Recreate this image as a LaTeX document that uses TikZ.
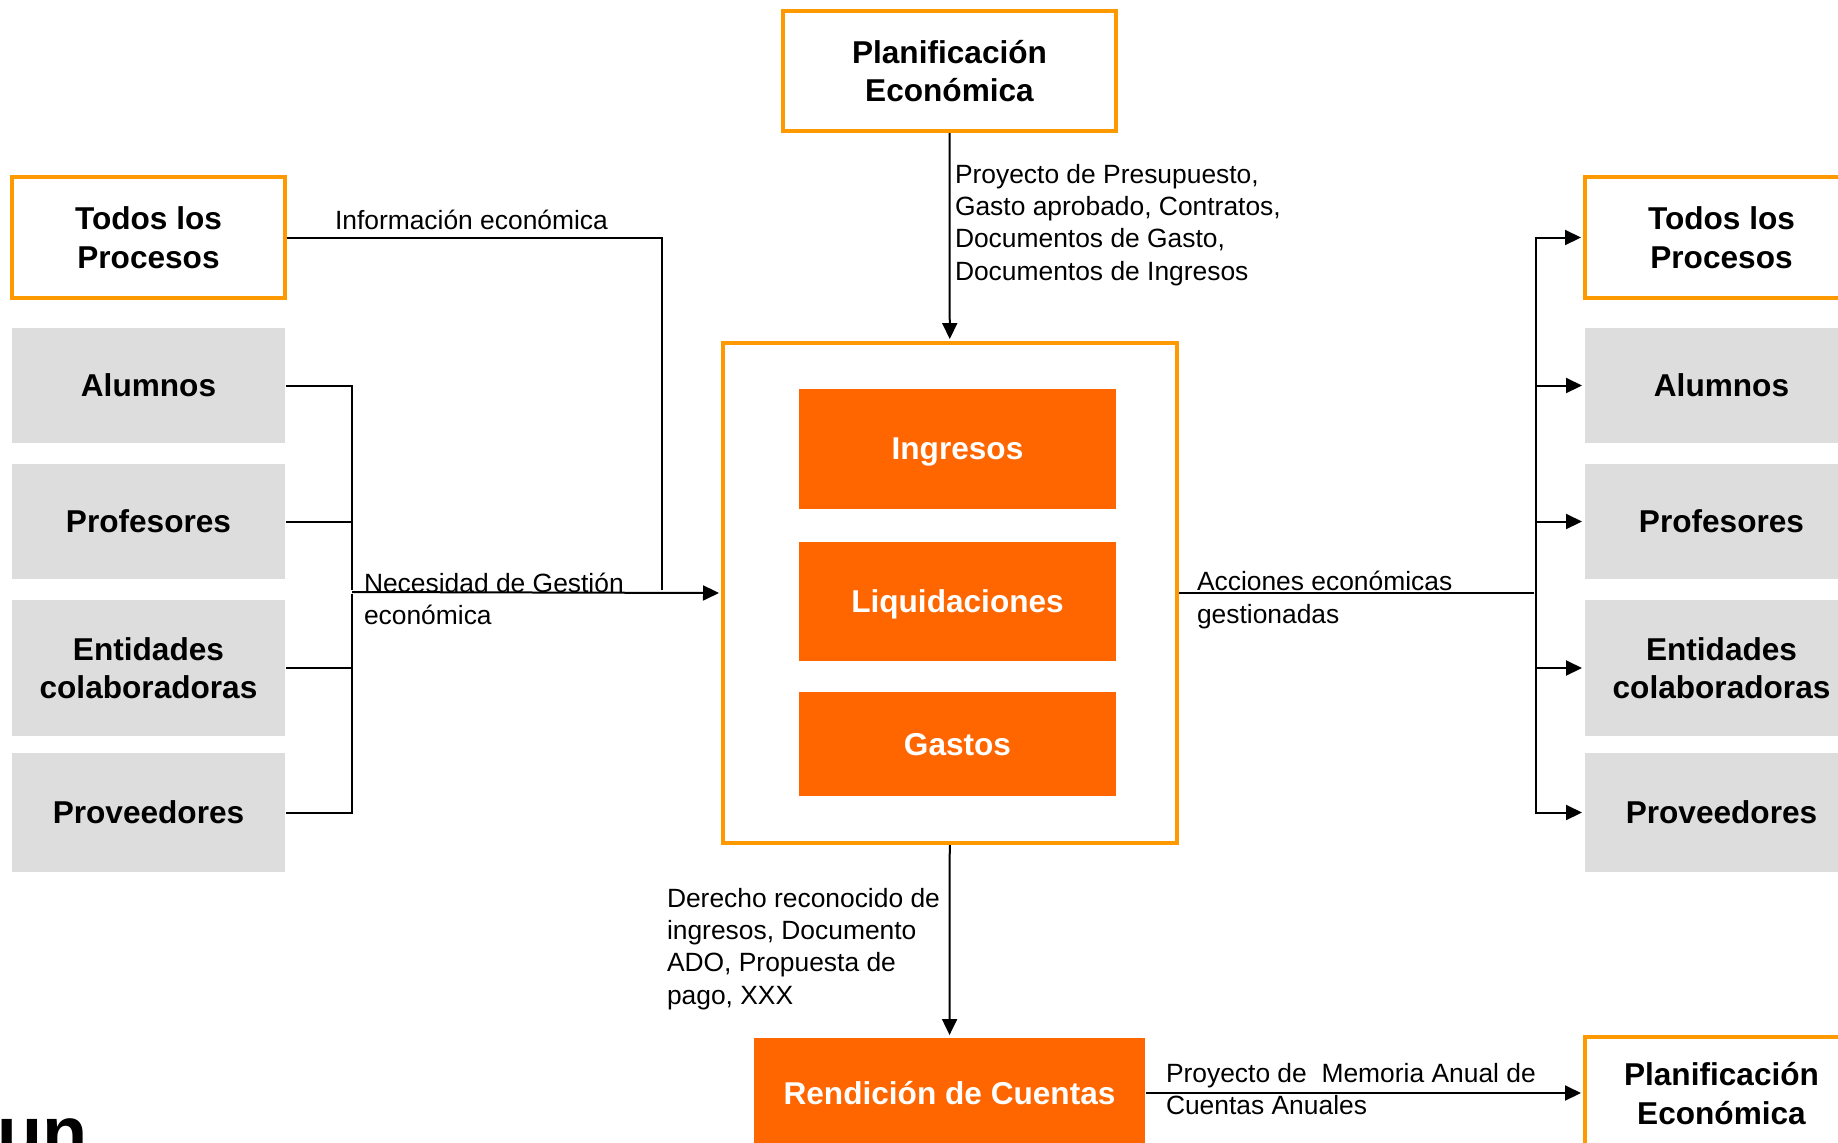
\documentclass[tikz,border=0pt]{standalone}
\usepackage{fontspec}
\setmainfont{Liberation Sans}
\usetikzlibrary{arrows.meta}
\usetikzlibrary{positioning}

\definecolor{borde}{RGB}{255,153,0}
\definecolor{naranja}{RGB}{255,102,0}
\definecolor{gris}{RGB}{221,221,221}

\begin{document}
\begin{tikzpicture}[x=0.5pt,y=-0.5pt,line width=1pt,shorten >=1pt,>={Triangle[length=8pt,width=7.5pt]},
    marco/.style={draw=borde,line width=2pt,fill=white,align=center,inner sep=0pt,text depth=0pt,
                  font=\fontsize{15.8}{19.4}\selectfont\bfseries},
    actor/.style={fill=gris,align=center,inner sep=0pt,minimum width=136.5pt,text depth=0pt,
                  font=\fontsize{15.8}{19.4}\selectfont\bfseries},
    tarea/.style={fill=naranja,text=white,inner sep=0pt,text depth=0pt,
                  font=\fontsize{15.8}{19.4}\selectfont\bfseries},
    etiq/.style={align=left,inner sep=0pt,anchor=west,font=\fontsize{13.2}{16.1}\selectfont}]
  \useasboundingbox (0,0) rectangle (1838,1142);
  % proceso central
  \node[marco,minimum width=166.5pt,minimum height=60pt] (plan)     at (949.5,71)   {Planificación\\Económica};
  \node[marco,minimum width=227pt,minimum height=250pt]  (gestion)  at (950,593)    {};
  \node[tarea,minimum width=158.5pt,minimum height=60pt] (ingresos) at (957.5,449)  {Ingresos};
  \node[tarea,minimum width=158.5pt,minimum height=59.5pt] (liquid) at (957.5,601.5) {Liquidaciones};
  \node[tarea,minimum width=158.5pt,minimum height=52pt] (gastos)   at (957.5,744)  {Gastos};
  \node[tarea,minimum width=195.5pt,minimum height=55pt] (rend)     at (949.5,1093) {Rendición de Cuentas};
  % entradas
  \node[marco,minimum width=136.5pt,minimum height=60.5pt] (todos_l) at (148.5,237.5) {Todos los\\Procesos};
  \node[actor,minimum height=57.5pt] (alum_l) at (148.5,385.5) {Alumnos};
  \node[actor,minimum height=57.5pt] (prof_l) at (148.5,521.5) {Profesores};
  \node[actor,minimum height=68pt]   (ent_l)  at (148.5,668)   {Entidades\\colaboradoras};
  \node[actor,minimum height=59.5pt] (prov_l) at (148.5,812.5) {Proveedores};
  % salidas
  \node[marco,minimum width=136.5pt,minimum height=60.5pt] (todos_r) at (1721.5,237.5) {Todos los\\Procesos};
  \node[actor,minimum height=57.5pt] (alum_r) at (1721.5,385.5) {Alumnos};
  \node[actor,minimum height=57.5pt] (prof_r) at (1721.5,521.5) {Profesores};
  \node[actor,minimum height=68pt]   (ent_r)  at (1721.5,668)   {Entidades\\colaboradoras};
  \node[actor,minimum height=59.5pt] (prov_r) at (1721.5,812.5) {Proveedores};
  \node[marco,minimum width=136.5pt,minimum height=56pt] (plan_r) at (1721.5,1093) {Planificación\\Económica};
  \node[inner sep=0pt,anchor=base west,font=\fontsize{37}{40}\selectfont\bfseries] (logo) at (-4,1158) {un};
  % conectores
  \coordinate (info) at (662,592);
  \coordinate (nec)  at (352,592);
  \coordinate (acc)  at (1536,593);
  \draw (todos_l.east) -| (info);
  \foreach \n in {alum_l,prof_l,ent_l,prov_l}
    \draw (\n.east) -| (nec);
  \draw[->] (nec) -- (gestion.west);
  \draw (gestion.east) -- (acc);
  \foreach \n in {todos_r,alum_r,prof_r,ent_r,prov_r}
    \draw[->] (acc) |- (\n.west);
  \draw[->] (plan) -- (gestion);
  \draw[->] (gestion) -- (rend);
  \draw[->] (rend) -- (plan_r);
  % etiquetas
  \node[etiq,anchor=base west] (l_info) at (334,229) {Información económica};
  \node[etiq] (l_nec)  at (363,599)  {Necesidad de Gestión\\económica};
  \node[etiq] (l_plan) at (954,225)  {Proyecto de Presupuesto,\\Gasto aprobado, Contratos,\\Documentos de Gasto,\\Documentos de Ingresos};
  \node[etiq] (l_acc)  at (1196,600) {Acciones económicas\\gestionadas};
  \node[etiq] (l_rend) at (666,949)  {Derecho reconocido de\\ingresos, Documento\\ADO, Propuesta de\\pago, XXX};
  \node[etiq] (l_mem)  at (1165,1089) {Proyecto de~ Memoria Anual de\\Cuentas Anuales};
\end{tikzpicture}
\end{document}
